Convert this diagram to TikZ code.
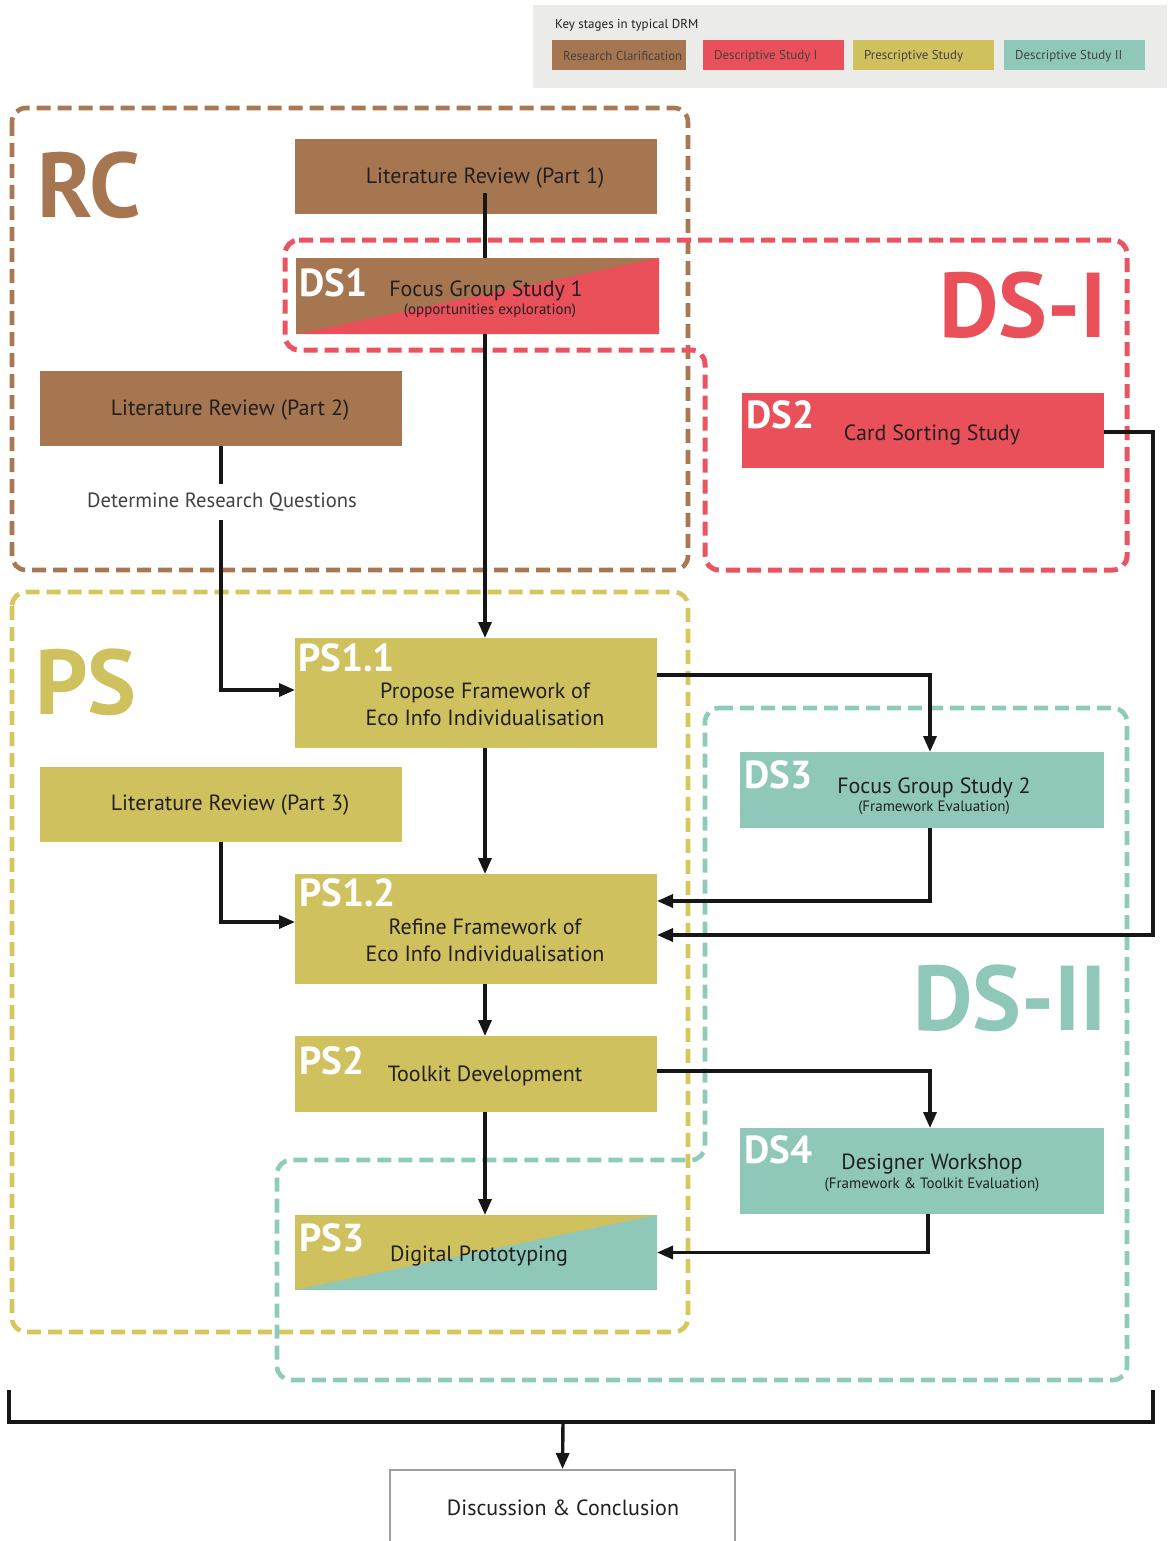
\documentclass[tikz,border=0pt]{standalone}
\usepackage{fontspec}
\setmainfont{PT Sans}
\usetikzlibrary{arrows.meta}
\definecolor{rcbrown}{HTML}{A67651}
\definecolor{dsred}{HTML}{E9505A}
\definecolor{psyellow}{HTML}{CEC15E}
\definecolor{dsteal}{HTML}{8FC8B9}
\definecolor{txt}{HTML}{231F20}
\definecolor{legendbg}{HTML}{EBEBEA}
\definecolor{rcline}{HTML}{A87852}
\definecolor{redline}{HTML}{EC5360}
\definecolor{psline}{HTML}{D5C75C}
\definecolor{tealline}{HTML}{8FCBBB}
\definecolor{flowcol}{HTML}{161616}
\definecolor{dcline}{HTML}{A0A0A0}

\begin{document}
\begin{tikzpicture}[x=1pt,y=-1pt,
  stage/.style={rectangle, inner sep=0, outer sep=0, minimum width=362, minimum height=75},
  main/.style={text=txt, inner sep=0, font=\fontsize{22}{27}\selectfont},
  sub/.style={text=txt, inner sep=0, font=\fontsize{15}{17}\selectfont},
  tag/.style={text=white, anchor=west, inner sep=0, font=\bfseries\fontsize{39}{39}\selectfont},
  big/.style={inner sep=0, font=\bfseries\fontsize{92}{92}\selectfont},
  chip/.style={rectangle, inner sep=0, minimum width=141, minimum height=30, anchor=north west},
  chiptext/.style={anchor=west, inner sep=0, text=txt!85, font=\fontsize{12.9}{15}\selectfont},
  link/.style={draw=flowcol, line width=3.4},
  flow/.style={link, -{Triangle[length=16pt,width=13pt]}},
  region/.style={line width=4.6, dash pattern=on 14pt off 7pt, rounded corners=14},
]
\useasboundingbox (0,0) rectangle (1167,1541);
\clip (0,0) rectangle (1167,1541);

% ---------- legend ----------
\node[fill=legendbg, inner sep=0, minimum width=634, minimum height=83, anchor=north west] (legend) at (533,5) {};
\node[anchor=west, inner sep=0, text=txt, font=\fontsize{13}{15}\selectfont] (legtitle) at (555,25) {Key stages in typical DRM};
\node[chip, fill=rcbrown, minimum width=134] (chiprc) at (552,40) {};
\node[chip, fill=dsred] (chipdsi) at (703,40) {};
\node[chip, fill=psyellow] (chipps) at (853,40) {};
\node[chip, fill=dsteal] (chipdsii) at (1004,40) {};
\node[chiptext] (lrc) at (563,56) {Research Clarification};
\node[chiptext] (ldsi) at (714,56) {Descriptive Study I};
\node[chiptext] (lps) at (864,56) {Prescriptive Study};
\node[chiptext] (ldsii) at (1015,56) {Descriptive Study II};

% ---------- stage regions ----------
\draw[region, draw=rcline] (12,108) rectangle (688,570);
\draw[region, draw=psline] (12,592) rectangle (688,1332);
\draw[region, draw=redline, line width=5] (285,240) -- (1127,240) -- (1127,570) -- (705,570) -- (705,350) -- (285,350) -- cycle;
\draw[region, draw=tealline] (705,708) -- (1127,708) -- (1127,1380) -- (277,1380) -- (277,1160) -- (705,1160) -- cycle;

\node[big, text=rcbrown] (rclabel) at (89,185) {RC};
\node[big, text=dsred] (dsilabel) at (1023,305) {DS-I};
\node[big, text=psyellow] (pslabel) at (86,682) {PS};
\node[big, text=dsteal] (dsiilabel) at (1010,998) {DS-II};

% ---------- study boxes ----------
\node[stage, fill=rcbrown] (lr1) at (476,176.5) {};
\node[stage, fill=rcbrown, minimum width=363, minimum height=76] (ds1) at (477.5,296) {};
\fill[dsred] (ds1.south west) -- (ds1.north east) -- (ds1.south east) -- cycle;
\node[stage, fill=rcbrown] (lr2) at (221,408.5) {};
\node[stage, fill=dsred] (ds2) at (923,430.5) {};
\node[stage, fill=psyellow, minimum height=110] (ps11) at (476,693) {};
\node[stage, fill=psyellow] (lr3) at (221,804.5) {};
\node[stage, fill=dsteal, minimum width=364, minimum height=76] (ds3) at (922,790) {};
\node[stage, fill=psyellow, minimum height=110] (ps12) at (476,929) {};
\node[stage, fill=psyellow, minimum height=76] (ps2) at (476,1074) {};
\node[stage, fill=dsteal, minimum width=364, minimum height=86] (ds4) at (922,1171) {};
\node[stage, fill=psyellow] (ps3) at (476,1252.5) {};
\fill[dsteal] (ps3.south west) -- (ps3.north east) -- (ps3.south east) -- cycle;

% ---------- connectors ----------
\coordinate (tx) at (485,0);
\coordinate (rx) at (930,0);
\coordinate (rxb) at (928,0);
\coordinate (bx) at (1153,0);

% trunk from the first review through the first focus group study
\draw[link] (485,193) -- (ds1.north -| tx);
\draw[flow] (ds1.south -| tx) -- (ps11.north -| tx);
\draw[flow] (lr2.south) |- ([yshift=3]ps11.west);
\draw[flow] ([yshift=18]ps11.east) -| (ds3.north -| rx);
\draw[flow] (ps11.south -| tx) -- (ps12.north -| tx);
\draw[flow] (lr3.south) |- ([yshift=7]ps12.west);
\draw[flow] (ds3.south -| rx) |- ([yshift=28]ps12.east);
\draw[flow] ([yshift=-1.5]ds2.east) -- ([yshift=-1.5]ds2.east -| bx) |- ([yshift=-6]ps12.east);
\draw[flow] (ps12.south -| tx) -- (ps2.north -| tx);
\draw[flow] ([yshift=3]ps2.east) -| (ds4.north -| rx);
\draw[flow] (ps2.south -| tx) -- (ps3.north -| tx);
\draw[flow] (ds4.south -| rxb) |- (ps3.east);

\node[fill=white, inner sep=0, minimum height=36, text=txt!85, font=\fontsize{20.6}{22}\selectfont] (drq) at (222,502) {Determine Research Questions};

% ---------- box texts ----------
\node[main] (tlr1) at (485,178) {Literature Review (Part 1)};
\node[tag] (tds1) at (299,283) {DS1};
\node[main] (tds1a) at (486,291) {Focus Group Study 1};
\node[sub] (tds1b) at (490,311) {(opportunities exploration)};
\node[main] (tlr2) at (230,410) {Literature Review (Part 2)};
\node[tag] (tds2) at (746,415) {DS2};
\node[main] (tds2a) at (932,435) {Card Sorting Study};
\node[tag] (tps11) at (298,658) {PS1.1};
\node[main, align=center] (tps11a) at (485,704) {Propose Framework of\\Eco Info Individualisation};
\node[main] (tlr3) at (230,805) {Literature Review (Part 3)};
\node[tag] (tds3) at (744,775) {DS3};
\node[main] (tds3a) at (934,788) {Focus Group Study 2};
\node[sub] (tds3b) at (934,808) {(Framework Evaluation)};
\node[tag] (tps12) at (299,893) {PS1.2};
\node[main, align=center] (tps12a) at (485,940) {Refine Framework of\\Eco Info Individualisation};
\node[tag] (tps2) at (299,1061) {PS2};
\node[main] (tps2a) at (485,1076) {Toolkit Development};
\node[tag] (tds4) at (744,1150) {DS4};
\node[main] (tds4a) at (932,1164) {Designer Workshop};
\node[sub] (tds4b) at (932,1185) {(Framework \& Toolkit Evaluation)};
\node[tag] (tps3) at (299,1238) {PS3};
\node[main] (tps3a) at (479,1256) {Digital Prototyping};

% ---------- closing bracket and conclusion ----------
\coordinate (bl) at (9,1390);
\coordinate (br) at (1153,1390);
\coordinate (bbase) at (563,1422);
\draw[link] (bl) |- (bbase) -| (br);
\node[draw=dcline, line width=1.5, inner sep=0, minimum width=345, minimum height=100, anchor=north] (dc) at (562.5,1469) {};
\node[main] (tdc) at (563,1508) {Discussion \& Conclusion};
\draw[flow] (bbase) -- (dc.north);
\end{tikzpicture}
\end{document}
